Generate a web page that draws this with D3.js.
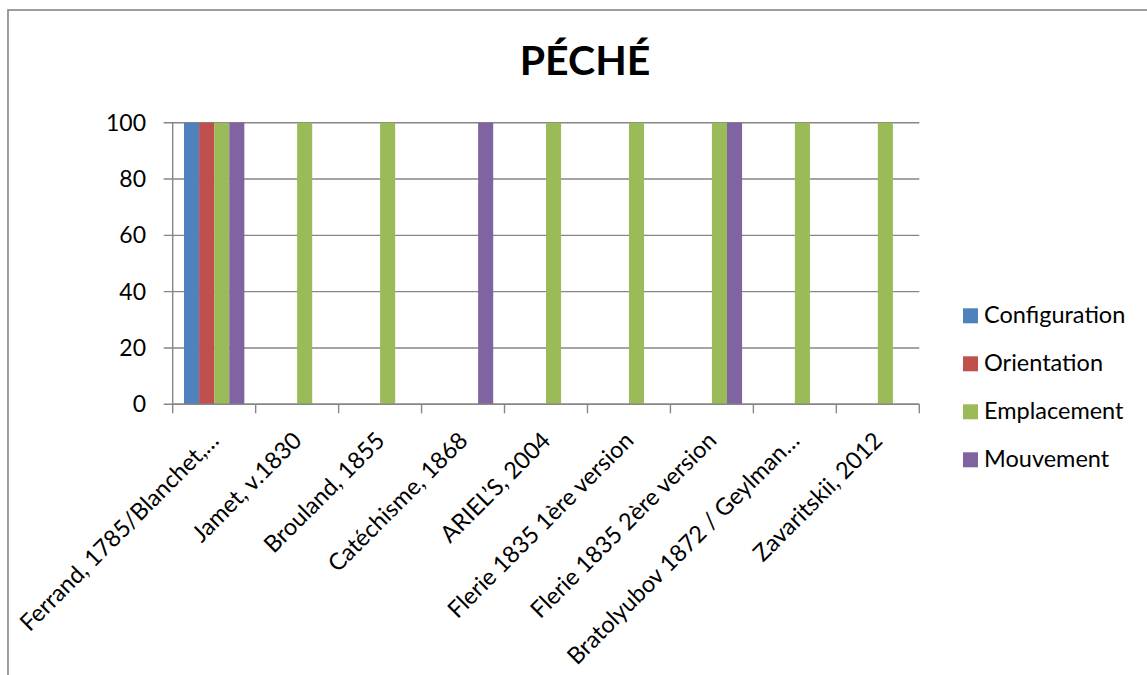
<!DOCTYPE html>
<html>
<head>
<meta charset="utf-8">
<script src="https://cdn.jsdelivr.net/npm/d3@7"></script>
<style>
  body { margin: 0; background: #fff; }
  svg text { font-family: Lato, "Open Sans", sans-serif; fill: #000; }
</style>
</head>
<body>
<div id="chart"></div>
<script>
// data
var categories = ["Ferrand, 1785/Blanchet,…", "Jamet, v.1830", "Brouland, 1855", "Catéchisme, 1868",
  "ARIEL’S, 2004", "Flerie 1835 1ère version", "Flerie 1835 2ère version",
  "Bratolyubov 1872 / Geylman…", "Zavaritskii, 2012"];
var seriesNames = ["Configuration", "Orientation", "Emplacement", "Mouvement"];
var configuration = [100, 0, 0, 0, 0, 0, 0, 0, 0];
var orientation   = [100, 0, 0, 0, 0, 0, 0, 0, 0];
var emplacement   = [100, 100, 100, 0, 100, 100, 100, 100, 100];
var mouvement     = [100, 0, 0, 100, 0, 0, 100, 0, 0];
var yTicks = [0, 20, 40, 60, 80, 100];
var colors = ["#4F81BD", "#C0504D", "#9BBB59", "#8064A2"];

var values = [configuration, orientation, emplacement, mouvement];

var w = 1147, h = 675;
var plotL = 172.7, plotR = 919.3, plotT = 122.7, plotB = 404.3;
var gridColor = "#868686";

var svg = d3.select("#chart").append("svg")
  .attr("width", w)
  .attr("height", h);

// outer chart frame (runs off the page on right and bottom)
svg.append("rect")
  .attr("x", 8).attr("y", 10)
  .attr("width", w + 20).attr("height", h + 20)
  .attr("fill", "none")
  .attr("stroke", gridColor)
  .attr("stroke-width", 1.6);

svg.append("text")
  .attr("x", 585).attr("y", 75)
  .attr("text-anchor", "middle")
  .attr("font-size", "41px")
  .attr("font-weight", "bold")
  .text("PÉCHÉ");

var x0 = d3.scaleBand().domain(categories).range([plotL, plotR]).padding(0);
var bw = x0.bandwidth() / 5.5;  // gap width 150%
var x1 = d3.scaleBand().domain(seriesNames).range([0.75 * bw, 4.75 * bw]).padding(0);
var y = d3.scaleLinear().domain([0, 100]).range([plotB, plotT]);

// gridlines + y ticks
svg.append("g").selectAll("line")
  .data(yTicks)
  .enter().append("line")
  .attr("x1", plotL - 9).attr("x2", plotR)
  .attr("y1", function(d) { return y(d); })
  .attr("y2", function(d) { return y(d); })
  .attr("stroke", gridColor)
  .attr("stroke-width", 1.4);

svg.append("g").selectAll("text")
  .data(yTicks)
  .enter().append("text")
  .attr("x", 146)
  .attr("y", function(d) { return y(d) + 8; })
  .attr("text-anchor", "end")
  .attr("font-size", "23px")
  .text(function(d) { return d; });

// y axis line
svg.append("line")
  .attr("x1", plotL).attr("x2", plotL)
  .attr("y1", plotT).attr("y2", plotB)
  .attr("stroke", gridColor).attr("stroke-width", 1.4);

// x tick marks
var tickPos = categories.map(function(c) { return x0(c); }).concat([plotR]);
svg.append("g").selectAll("line")
  .data(tickPos)
  .enter().append("line")
  .attr("x1", function(d) { return d; })
  .attr("x2", function(d) { return d; })
  .attr("y1", plotB).attr("y2", plotB + 9)
  .attr("stroke", gridColor).attr("stroke-width", 1.4);

// bars
seriesNames.forEach(function(s, si) {
  svg.append("g").selectAll("rect")
    .data(values[si])
    .enter().append("rect")
    .attr("x", function(d, i) { return x0(categories[i]) + x1(s); })
    .attr("y", function(d) { return y(d); })
    .attr("width", x1.bandwidth())
    .attr("height", function(d) { return plotB - y(d); })
    .attr("fill", colors[si]);
});

// x axis line on top of bars
svg.append("line")
  .attr("x1", plotL).attr("x2", plotR)
  .attr("y1", plotB).attr("y2", plotB)
  .attr("stroke", gridColor).attr("stroke-width", 1.4);

// category labels, rotated
svg.append("g").selectAll("text")
  .data(categories)
  .enter().append("text")
  .attr("text-anchor", "end")
  .attr("font-size", "23.5px")
  .attr("transform", function(d) {
    return "translate(" + (x0(d) + x0.bandwidth() / 2 + 6) + "," + 442 + ") rotate(-45)";
  })
  .text(function(d) { return d; });

// legend
var legend = svg.append("g").selectAll("g")
  .data(seriesNames)
  .enter().append("g")
  .attr("transform", function(d, i) { return "translate(963," + (315.8 + i * 48) + ")"; });

legend.append("rect")
  .attr("x", 0).attr("y", -7.5)
  .attr("width", 15).attr("height", 15)
  .attr("fill", function(d, i) { return colors[i]; });

legend.append("text")
  .attr("x", 21).attr("y", 7.5)
  .attr("font-size", "23.5px")
  .text(function(d) { return d; });
</script>
</body>
</html>
